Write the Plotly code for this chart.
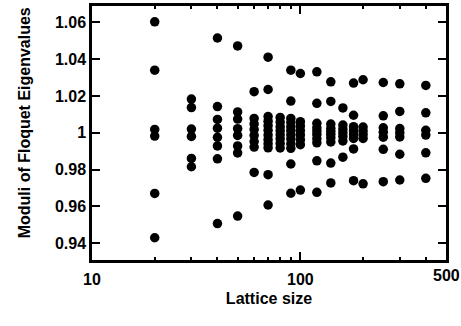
import plotly.graph_objects as go

# Moduli of the Floquet eigenvalues for each lattice size
lattice_sizes = [20, 30, 40, 50, 60, 70, 80, 90, 100, 120, 140, 160, 180, 200, 250, 300, 400]

moduli_20 = [1.0603, 1.034, 1.0018, 0.9982, 0.967, 0.9429]
moduli_30 = [1.0183, 1.0137, 1.002, 0.998, 0.986, 0.9815]
moduli_40 = [1.0515, 1.0142, 1.0072, 1.0025, 0.9975, 0.9928, 0.9858, 0.9506]
moduli_50 = [1.0472, 1.0113, 1.0074, 1.0022, 0.9985, 0.9928, 0.989, 0.9547]
moduli_60 = [1.0223, 1.0078, 1.0048, 1.0018, 0.9985, 0.9952, 0.9922, 0.9784]
moduli_70 = [1.0411, 1.0235, 1.0088, 1.0063, 1.0038, 1.0013, 0.9987, 0.9962, 0.994, 0.9918, 0.9772, 0.9607]
moduli_80 = [1.0083, 1.0058, 1.0033, 1.0011, 0.9989, 0.9967, 0.9942, 0.9917]
moduli_90 = [1.034, 1.0172, 1.0078, 1.0055, 1.0032, 1.0011, 0.9989, 0.9966, 0.994, 0.9915, 0.983, 0.9671]
moduli_100 = [1.0322, 1.006, 1.0036, 1.0012, 0.9988, 0.9962, 0.9935, 0.9688]
moduli_120 = [1.0331, 1.016, 1.0051, 1.0027, 1.0009, 0.9991, 0.9967, 0.9945, 0.9847, 0.9676]
moduli_140 = [1.0277, 1.017, 1.0047, 1.0024, 1.0008, 0.9992, 0.9973, 0.995, 0.9835, 0.9727]
moduli_160 = [1.0135, 1.0042, 1.002, 1.0, 0.998, 0.9955, 0.9867]
moduli_180 = [1.027, 1.0095, 1.0033, 1.0011, 0.9989, 0.9969, 0.9912, 0.9739]
moduli_200 = [1.0288, 1.0031, 1.001, 0.999, 0.9969, 0.9722]
moduli_250 = [1.0273, 1.0092, 1.0027, 1.0003, 0.9976, 0.991, 0.9734]
moduli_300 = [1.0266, 1.0116, 1.0023, 1.0, 0.9977, 0.9883, 0.9743]
moduli_400 = [1.0257, 1.0108, 1.0013, 0.9987, 0.9891, 0.9752]

moduli_by_size = [
    moduli_20, moduli_30, moduli_40, moduli_50, moduli_60, moduli_70,
    moduli_80, moduli_90, moduli_100, moduli_120, moduli_140, moduli_160,
    moduli_180, moduli_200, moduli_250, moduli_300, moduli_400,
]

y_tick_values = [0.94, 0.96, 0.98, 1.0, 1.02, 1.04, 1.06]
y_tick_labels = ["0.94", "0.96", "0.98", "1", "1.02", "1.04", "1.06"]
x_tick_values = [10, 100]
x_tick_labels = ["10", "100"]
x_minor_values = [20, 30, 40, 50, 60, 70, 80, 90, 200, 300, 400]
x_edge_label = 500

xs, ys = [], []
for n, vals in zip(lattice_sizes, moduli_by_size):
    xs.extend([n] * len(vals))
    ys.extend(vals)

font_family = "Liberation Sans, Arial, Helvetica, sans-serif"
text_font = dict(family=font_family, size=16, color="black", weight="bold")

fig = go.Figure()
fig.add_trace(go.Scatter(
    x=xs, y=ys, mode="markers",
    marker=dict(color="black", size=9.5, line=dict(width=0)),
    showlegend=False, hoverinfo="skip",
))

fig.update_xaxes(
    type="log", range=[1, 2.69897],
    showline=True, linecolor="black", linewidth=2.5, mirror="ticks",
    ticks="inside", ticklen=8, tickwidth=2, tickcolor="black",
    tickvals=x_tick_values, ticktext=x_tick_labels,
    minor=dict(tickvals=x_minor_values, ticks="inside", ticklen=3.5, tickwidth=2, tickcolor="black", showgrid=False),
    showgrid=False, zeroline=False,
    tickfont=text_font,
    ticklabelstandoff=3,
    title=dict(text="Lattice size", font=text_font, standoff=6),
)
fig.update_yaxes(
    range=[0.9308, 1.0689],
    showline=True, linecolor="black", linewidth=2.5, mirror="ticks",
    ticks="inside", ticklen=8, tickwidth=2, tickcolor="black",
    tickvals=y_tick_values, ticktext=y_tick_labels,
    showgrid=False, zeroline=False,
    tickfont=text_font,
    ticklabelstandoff=0,
)

# vertical axis title
fig.add_annotation(
    x=0, y=0.538, xref="paper", yref="paper", xanchor="center", yanchor="middle",
    xshift=-68, textangle=-90, text="Moduli of Floquet Eigenvalues",
    showarrow=False, font=text_font,
)

# right-hand end label of the log axis sits a little higher than the others
fig.add_annotation(
    x=2.69897, y=0, xref="x", yref="paper", yanchor="top", yshift=-5,
    text=str(x_edge_label), showarrow=False, font=text_font,
)

fig.update_layout(
    width=461, height=326,
    margin=dict(l=92, r=15, t=3.5, b=66),
    paper_bgcolor="white", plot_bgcolor="white",
)

fig.write_html("out.html")
